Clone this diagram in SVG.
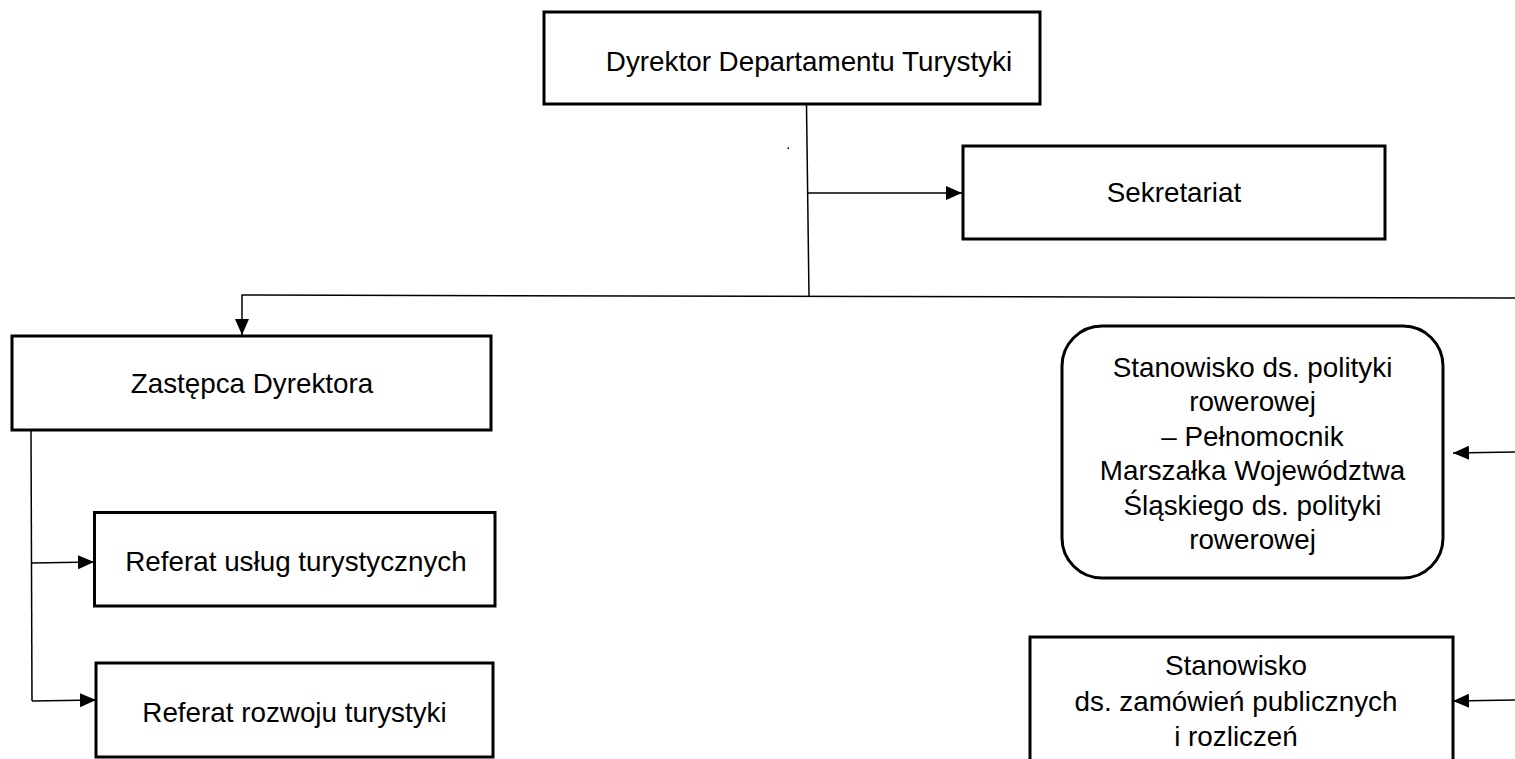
<svg xmlns="http://www.w3.org/2000/svg" width="1515" height="759" viewBox="0 0 1515 759">
<style>
.box{fill:#fff;stroke:#000;stroke-width:3}
.lbl{font-family:"Liberation Sans",Arial,sans-serif;font-size:27.8px;fill:#000;text-anchor:middle}
.con{fill:none;stroke:#000;stroke-width:1.5}
</style>
<defs>
<marker id="arr" markerWidth="16" markerHeight="14" refX="16" refY="7" orient="auto" markerUnits="userSpaceOnUse">
<path d="M0,0 L16,7 L0,14 z" fill="#000"/>
</marker>
</defs>
<rect width="1515" height="759" fill="#fff"/>
<g id="connectors">
<line class="con" x1="806.5" y1="105" x2="809" y2="297"/>
<line class="con" x1="807" y1="193" x2="962" y2="193" marker-end="url(#arr)"/>
<line class="con" x1="241.5" y1="295" x2="1515" y2="298"/>
<line class="con" x1="242" y1="295" x2="242" y2="335" marker-end="url(#arr)"/>
<line class="con" x1="31" y1="430" x2="32" y2="701"/>
<line class="con" x1="31" y1="563" x2="94" y2="562" marker-end="url(#arr)"/>
<line class="con" x1="32" y1="701" x2="96" y2="700" marker-end="url(#arr)"/>
<line class="con" x1="1515" y1="452" x2="1453" y2="453" marker-end="url(#arr)"/>
<line class="con" x1="1515" y1="700" x2="1453" y2="701" marker-end="url(#arr)"/>
<rect x="787.5" y="147.5" width="1.5" height="1.5" fill="#000"/>
</g>
<g id="dyrektor">
<rect class="box" x="544" y="12" width="496" height="92"/>
<text class="lbl" x="809" y="71">Dyrektor Departamentu Turystyki</text>
</g>
<g id="sekretariat">
<rect class="box" x="963" y="146" width="422" height="93"/>
<text class="lbl" x="1174" y="202">Sekretariat</text>
</g>
<g id="zastepca">
<rect class="box" x="12" y="336" width="479" height="94"/>
<text class="lbl" x="252" y="393">Zastępca Dyrektora</text>
</g>
<g id="referat-uslug">
<rect class="box" x="94.5" y="512.5" width="400.5" height="93.5"/>
<text class="lbl" x="296" y="571">Referat usług turystycznych</text>
</g>
<g id="referat-rozwoju">
<rect class="box" x="96" y="663" width="397" height="94"/>
<text class="lbl" x="294.5" y="722">Referat rozwoju turystyki</text>
</g>
<g id="polityka-rowerowa">
<rect class="box" x="1062" y="326" width="381" height="252" rx="40" ry="40"/>
<text class="lbl" x="1252.5" y="377">Stanowisko ds. polityki</text>
<text class="lbl" x="1252.5" y="411.4">rowerowej</text>
<text class="lbl" x="1252.5" y="445.8">– Pełnomocnik</text>
<text class="lbl" x="1252.5" y="480.2">Marszałka Województwa</text>
<text class="lbl" x="1252.5" y="514.6">Śląskiego ds. polityki</text>
<text class="lbl" x="1252.5" y="549">rowerowej</text>
</g>
<g id="zamowienia">
<rect class="box" x="1030" y="637" width="423" height="130"/>
<text class="lbl" x="1236" y="675">Stanowisko</text>
<text class="lbl" x="1236" y="711">ds. zamówień publicznych</text>
<text class="lbl" x="1236" y="746">i rozliczeń</text>
</g>
</svg>
